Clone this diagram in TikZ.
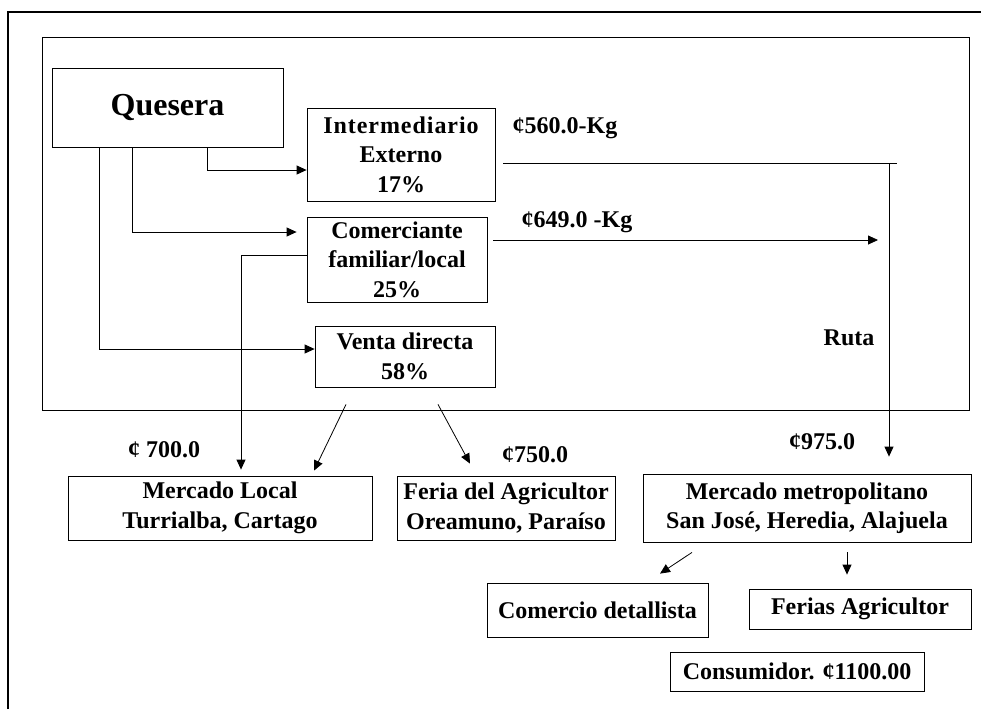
\documentclass[tikz,border=0pt]{standalone}
\usepackage{fontspec}
\setmainfont{Liberation Serif}
\usetikzlibrary{arrows.meta}

\begin{document}
\begin{tikzpicture}[x=1pt, y=-1pt,
  box/.style={draw, line width=0.8pt, inner sep=0pt, align=center,
    font=\bfseries\fontsize{24}{29.5}\selectfont},
  lbl/.style={inner sep=0pt, font=\bfseries\fontsize{24}{28}\selectfont},
  arr/.style={-{Triangle[length=10pt,width=9pt]}, line width=0.8pt}
]
  \useasboundingbox (0,0) rectangle (981,709);
  \draw[line width=2.5pt] (8,709) -- (8,12) -- (981,12);
  \draw[line width=0.9pt] (42,37) rectangle (969,410);

  \node[box, minimum width=231pt, minimum height=79pt,
    font=\bfseries\fontsize{32}{36}\selectfont] (quesera) at (167.5,107.5) {Quesera};
  \node[box, minimum width=188pt, minimum height=93pt] (interm) at (401,154.5)
    {{\addfontfeature{LetterSpace=4}Intermediario}\\Externo\\17\%};
  \node[box, minimum width=180pt, minimum height=85pt] (comer) at (397,259.5) {Comerciante\\familiar/local\\25\%};
  \node[box, minimum width=180pt, minimum height=61pt] (venta) at (405,356.5) {Venta directa\\58\%};
  \node[box, minimum width=304pt, minimum height=64pt] (mlocal) at (220,508) {Mercado Local\\Turrialba, Cartago};
  \node[box, minimum width=218pt, minimum height=64pt] (feria) at (506,508) {Feria del Agricultor\\Oreamuno, Paraíso};
  \node[box, minimum width=328pt, minimum height=68pt] (metro) at (807,508) {Mercado metropolitano\\San José, Heredia, Alajuela};
  \node[box, minimum width=221pt, minimum height=54pt] (detal) at (597.5,610) {Comercio detallista};
  \node[box, minimum width=222pt, minimum height=40pt] (ferias) at (860,609) {Ferias Agricultor};
  \node[box, minimum width=254pt, minimum height=39pt] (consum) at (797,671.5) {Consumidor. ¢1100.00};

  \node[lbl] (p560) at (565,128) {¢560.0-Kg};
  \node[lbl] (p649) at (577,222) {¢649.0 -Kg};
  \node[lbl] (ruta) at (849,338) {Ruta};
  \node[lbl] (p700) at (164,450) {¢ 700.0};
  \node[lbl] (p750) at (535,455) {¢750.0};
  \node[lbl] (p975) at (822,442) {¢975.0};

  \coordinate (rutaesq) at (889,163);
  \coordinate (rutafin) at (897,163);
  \coordinate (fin649) at (878,240);

  \draw[arr] ([xshift=156pt]quesera.south west) |- ([yshift=-15.5pt]interm.west);
  \draw[arr] ([xshift=81pt]quesera.south west) |- ([xshift=-10pt,yshift=27.5pt]comer.west);
  \draw[arr] ([xshift=48pt]quesera.south west) |- ([yshift=7.5pt]venta.west);
  \draw ([xshift=8pt,yshift=-8.5pt]interm.east) -- (rutafin);
  \draw[arr, shorten >=17pt] (rutaesq) -- (rutaesq |- metro.north);
  \draw[arr] ([xshift=6pt,yshift=19.5pt]comer.east) -- (fin649);
  \draw[arr] ([yshift=4.5pt]comer.west) -| ([xshift=21pt,yshift=6pt]mlocal.north);
  \draw[arr] ([xshift=-59pt,yshift=-17pt]venta.south) -- ([xshift=94pt,yshift=5pt]mlocal.north);
  \draw[arr] ([xshift=33pt,yshift=-17pt]venta.south) -- ([xshift=-36pt,yshift=12pt]feria.north);
  \draw[arr] ([xshift=-115pt,yshift=-10pt]metro.south) -- ([xshift=62.5pt,yshift=9pt]detal.north);
  \draw[arr] ([xshift=40pt,yshift=-10pt]metro.south) -- ([xshift=-13pt,yshift=14pt]ferias.north);
\end{tikzpicture}
\end{document}
